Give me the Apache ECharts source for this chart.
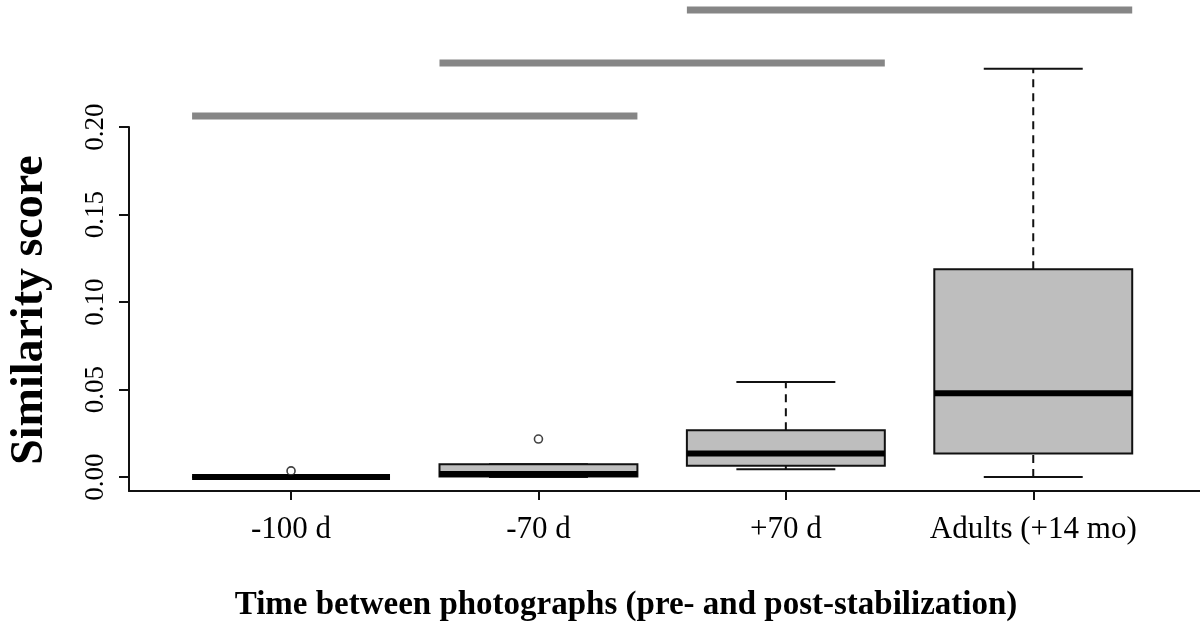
<!DOCTYPE html>
<html>
<head>
<meta charset="utf-8">
<title>Similarity score by time between photographs</title>
<script src="https://cdn.jsdelivr.net/npm/echarts@6/dist/echarts.min.js"></script>
<style>
  html, body { margin: 0; padding: 0; background: #ffffff; }
  #chart { width: 1200px; height: 628px; }
</style>
</head>
<body>
<div id="chart"></div>
<script>
// Groups along the x axis
const categories = ['-100 d', '-70 d', '+70 d', 'Adults (+14 mo)'];

// Five-number summaries per group
const whiskerLow  = [0.0000, 0.0000, 0.0044, 0.0000];
const quartile1   = [0.0000, 0.0003, 0.0065, 0.0135];
const medians     = [0.0000, 0.0017, 0.0135, 0.0478];
const quartile3   = [0.0000, 0.0073, 0.0267, 0.1187];
const whiskerHigh = [0.0000, 0.0073, 0.0543, 0.2333];

// Outlying observations: [group index, value]
const outliers = [[0, 0.0035], [1, 0.0217]];

// Pairwise comparison bars: [from group, to group, height on the score scale]
const comparisons = [[0, 1, 0.2063], [1, 2, 0.2366], [2, 3, 0.2669]];

// Score axis ticks
const yTicks = [0, 0.05, 0.10, 0.15, 0.20];

const BOX_HALF = 0.4;   // half of the box width, in group units
const CAP_HALF = 0.2;   // half of the whisker cap width
const INK = '#111111';
const FONT = 'Liberation Serif';

const boxData = categories.map((c, i) => [i + 1, whiskerLow[i], quartile1[i], medians[i], quartile3[i], whiskerHigh[i]]);
const outlierData = outliers.map(o => [o[0] + 1, o[1]]);
const compareData = comparisons.map(c => [c[0] + 1, c[1] + 1, c[2]]);

function renderBox(params, api) {
  const x = api.value(0);
  const lo = api.value(1), q1 = api.value(2), md = api.value(3), q3 = api.value(4), hi = api.value(5);
  const pLo = api.coord([x, lo]), pQ1 = api.coord([x, q1]), pMd = api.coord([x, md]);
  const pQ3 = api.coord([x, q3]), pHi = api.coord([x, hi]);
  const left = api.coord([x - BOX_HALF, q3])[0];
  const right = api.coord([x + BOX_HALF, q3])[0];
  const capL = api.coord([x - CAP_HALF, q3])[0];
  const capR = api.coord([x + CAP_HALF, q3])[0];
  const dashed = { stroke: INK, lineWidth: 2, lineDash: [8, 6], fill: null };
  const solid = { stroke: INK, lineWidth: 2, fill: null };
  const children = [];
  if (hi > q3) {
    children.push({ type: 'line', shape: { x1: pQ3[0], y1: pQ3[1], x2: pHi[0], y2: pHi[1] }, style: dashed });
  }
  if (lo < q1) {
    children.push({ type: 'line', shape: { x1: pLo[0], y1: pLo[1], x2: pQ1[0], y2: pQ1[1] }, style: dashed });
  }
  children.push({ type: 'line', shape: { x1: capL, y1: pHi[1], x2: capR, y2: pHi[1] }, style: solid });
  children.push({ type: 'line', shape: { x1: capL, y1: pLo[1], x2: capR, y2: pLo[1] }, style: solid });
  children.push({
    type: 'rect',
    shape: { x: left, y: pQ3[1], width: right - left, height: pQ1[1] - pQ3[1] },
    style: { fill: '#bebebe', stroke: INK, lineWidth: 2 }
  });
  children.push({
    type: 'line',
    shape: { x1: left, y1: pMd[1], x2: right, y2: pMd[1] },
    style: { stroke: '#000000', lineWidth: 6, lineCap: 'butt' }
  });
  return { type: 'group', children };
}

function renderComparison(params, api) {
  const y = api.value(2);
  const a = api.coord([api.value(0) - BOX_HALF, y]);
  const b = api.coord([api.value(1) + BOX_HALF, y]);
  return {
    type: 'line',
    shape: { x1: a[0], y1: a[1], x2: b[0], y2: b[1] },
    style: { stroke: '#868686', lineWidth: 7, lineCap: 'butt' }
  };
}

const chart = echarts.init(document.getElementById('chart'), null, { renderer: 'canvas' });

chart.setOption({
  backgroundColor: '#ffffff',
  animation: false,
  grid: { left: 129, right: 0, top: 127, bottom: 137, outerBoundsMode: 'none' },
  xAxis: {
    type: 'value',
    min: 0.345,
    max: 4.674,
    splitLine: { show: false },
    axisLine: { show: true, onZero: false, lineStyle: { color: INK, width: 2 } },
    axisTick: { show: true, length: 9, customValues: [1, 2, 3, 4], lineStyle: { color: INK, width: 2 } },
    axisLabel: {
      customValues: [1, 2, 3, 4],
      formatter: v => categories[Math.round(v) - 1] || '',
      fontFamily: FONT, fontSize: 31, color: '#000000', margin: 23
    }
  },
  yAxis: {
    type: 'value',
    min: -0.008,
    max: 0.20,
    splitLine: { show: false },
    axisLine: { show: true, onZero: false, lineStyle: { color: INK, width: 2 } },
    axisTick: { show: true, length: 10, customValues: yTicks, lineStyle: { color: INK, width: 2 } },
    axisLabel: {
      customValues: yTicks,
      rotate: 90,
      formatter: v => v.toFixed(2),
      fontFamily: FONT, fontSize: 27, color: '#000000', margin: 20
    }
  },
  graphic: [
    {
      type: 'text', x: 626, y: 605,
      style: {
        text: 'Time between photographs (pre- and post-stabilization)',
        font: 'bold 33px "Liberation Serif"', fill: '#000000',
        textAlign: 'center', textVerticalAlign: 'middle'
      }
    },
    {
      type: 'text', x: 30, y: 310, rotation: Math.PI / 2,
      style: {
        text: 'Similarity score',
        font: 'bold 46px "Liberation Serif"', fill: '#000000',
        textAlign: 'center', textVerticalAlign: 'middle'
      }
    }
  ],
  series: [
    {
      type: 'custom',
      name: 'comparisons',
      clip: false,
      renderItem: renderComparison,
      data: compareData,
      encode: { x: [0, 1], y: 2 },
      silent: true
    },
    {
      type: 'custom',
      name: 'boxes',
      clip: false,
      renderItem: renderBox,
      data: boxData,
      encode: { x: 0, y: [1, 2, 3, 4, 5] },
      silent: true
    },
    {
      type: 'scatter',
      name: 'outliers',
      data: outlierData,
      symbol: 'circle',
      symbolSize: 8,
      itemStyle: { color: '#ffffff', borderColor: INK, borderWidth: 1.6 },
      silent: true,
      z: 5
    }
  ]
});
</script>
</body>
</html>
